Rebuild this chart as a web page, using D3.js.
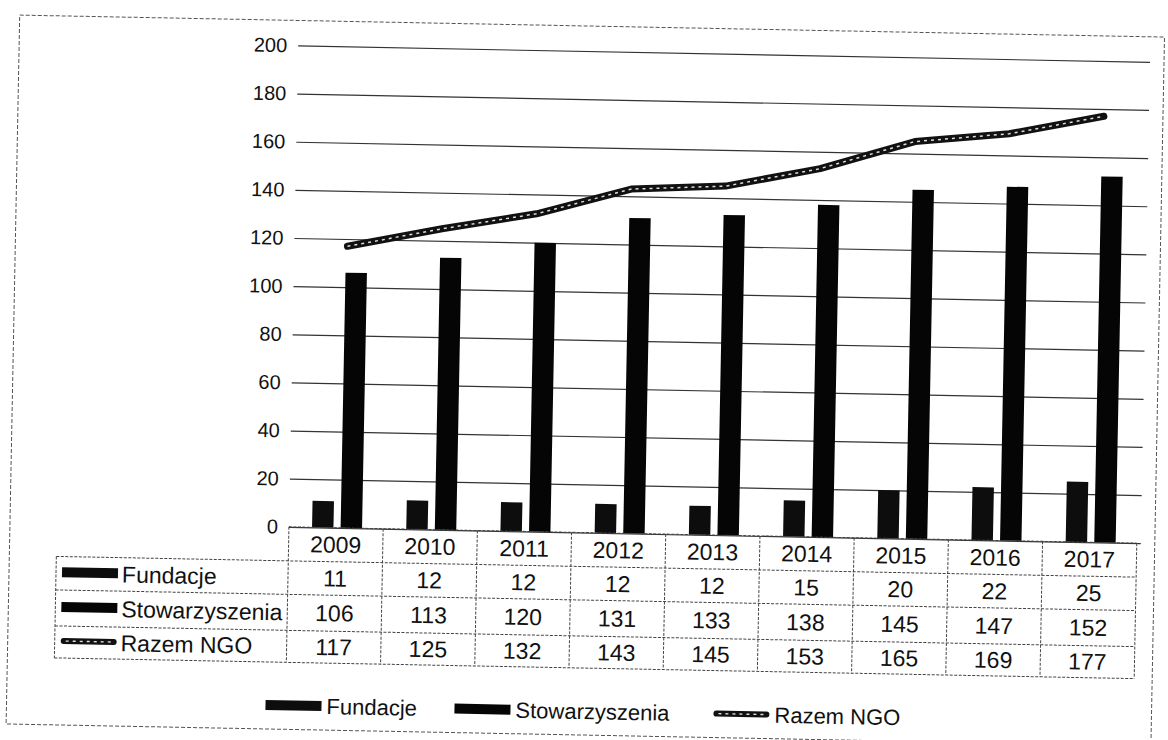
<!DOCTYPE html>
<html>
<head>
<meta charset="utf-8">
<script src="https://cdn.jsdelivr.net/npm/d3@7"></script>
<style>
  body { margin: 0; background: #fff; }
  svg text { font-family: "Liberation Sans", Arial, sans-serif; fill: #111; }
</style>
</head>
<body>
<svg id="chart" width="1168" height="740"></svg>
<script>
// values
const years = ["2009", "2010", "2011", "2012", "2013", "2014", "2015", "2016", "2017"];
const fundacje = [11, 12, 12, 12, 12, 15, 20, 22, 25];
const stowarzyszenia = [106, 113, 120, 131, 133, 138, 145, 147, 152];
const razemNGO = [117, 125, 132, 143, 145, 153, 165, 169, 177];
const yTicks = [0, 20, 40, 60, 80, 100, 120, 140, 160, 180, 200];
const seriesNames = ["Fundacje", "Stowarzyszenia", "Razem NGO"];

const svg = d3.select('#chart');
// the scan is tilted about a degree, so everything sits in a rotated group
const root = svg.append('g').attr('transform', 'rotate(1.1, 584, 370)');

const plotLeft = 292, plotRight = 1140, plotTop = 51, plotBottom = 532.5;
const tableLeft = 60;
const rowEdges = [532.5, 566.5, 600, 636, 668];

const xScale = d3.scaleBand().domain(years).range([plotLeft, plotRight]);
const yScale = d3.scaleLinear().domain([0, 200]).range([plotBottom, plotTop]);
const inner = d3.scaleBand().domain(["f", "s"]).range([0, 50]).paddingInner(0.25);
const groupOffset = (xScale.bandwidth() - 50) / 2 + 1;

// outer frame (dotted scan border)
root.append('rect')
    .attr('x', 13).attr('y', 26).attr('width', 1145).attr('height', 709)
    .attr('fill', 'none').attr('stroke', '#555').attr('stroke-width', 1)
    .attr('stroke-dasharray', '4,2');

// gridlines + y labels
const yAxis = d3.axisLeft(yScale).tickValues(yTicks).tickSize(-(plotRight - plotLeft + 4)).tickPadding(11);
const gy = root.append('g').attr('transform', `translate(${plotLeft},0)`).call(yAxis);
gy.select('.domain').remove();
gy.selectAll('.tick line').attr('stroke', '#333').attr('stroke-width', 1.2);
gy.selectAll('.tick text').attr('font-size', 20).attr('fill', '#111')
    .style('font-family', '"Liberation Sans", Arial, sans-serif');

// bars
root.append('g').selectAll('rect')
    .data(years)
    .join('rect')
    .attr('x', (d) => xScale(d) + groupOffset + inner('f'))
    .attr('y', (d, i) => yScale(fundacje[i]))
    .attr('width', inner.bandwidth())
    .attr('height', (d, i) => yScale(0) - yScale(fundacje[i]))
    .attr('fill', '#0d0d0d');

root.append('g').selectAll('rect')
    .data(years)
    .join('rect')
    .attr('x', (d) => xScale(d) + groupOffset + inner('s'))
    .attr('y', (d, i) => yScale(stowarzyszenia[i]))
    .attr('width', inner.bandwidth())
    .attr('height', (d, i) => yScale(0) - yScale(stowarzyszenia[i]))
    .attr('fill', '#050505');

// Razem NGO line: dark outline with white speckled centre
const line = d3.line()
    .x((d, i) => xScale(years[i]) + xScale.bandwidth() / 2 + 6)
    .y((d) => yScale(d));
root.append('path').datum(razemNGO).attr('d', line)
    .attr('fill', 'none').attr('stroke', '#111').attr('stroke-width', 7)
    .attr('stroke-linecap', 'round').attr('stroke-linejoin', 'round');
root.append('path').datum(razemNGO).attr('d', line)
    .attr('fill', 'none').attr('stroke', '#ddd').attr('stroke-width', 1.5)
    .attr('stroke-dasharray', '3,4');

// data table
const table = root.append('g').attr('stroke', '#444').attr('stroke-width', 1)
    .attr('stroke-dasharray', '3,1.5').attr('fill', 'none');
table.append('line').attr('x1', plotLeft).attr('x2', plotRight).attr('y1', rowEdges[0]).attr('y2', rowEdges[0]);
rowEdges.slice(1).forEach(function(y) {
    table.append('line').attr('x1', tableLeft).attr('x2', plotRight).attr('y1', y).attr('y2', y);
});
table.append('line').attr('x1', tableLeft).attr('x2', tableLeft).attr('y1', rowEdges[1]).attr('y2', rowEdges[4]);
years.forEach(function(y) {
    table.append('line').attr('x1', xScale(y)).attr('x2', xScale(y)).attr('y1', rowEdges[0]).attr('y2', rowEdges[4]);
});
table.append('line').attr('x1', plotRight).attr('x2', plotRight).attr('y1', rowEdges[0]).attr('y2', rowEdges[4]);

// header years
root.append('g').selectAll('text')
    .data(years)
    .join('text')
    .attr('x', (d) => xScale(d) + xScale.bandwidth() / 2)
    .attr('y', (rowEdges[0] + rowEdges[1]) / 2 + 8)
    .attr('text-anchor', 'middle')
    .attr('font-size', 23)
    .text((d) => d);

const rows = [fundacje, stowarzyszenia, razemNGO];
rows.forEach(function(vals, r) {
    const yMid = (rowEdges[r + 1] + rowEdges[r + 2]) / 2;
    root.append('g').selectAll('text')
        .data(vals)
        .join('text')
        .attr('x', (d, i) => xScale(years[i]) + xScale.bandwidth() / 2)
        .attr('y', yMid + 8)
        .attr('text-anchor', 'middle')
        .attr('font-size', 23)
        .text((d) => d);
});

function drawKey(g, name, x, y) {
    if (name === "Razem NGO") {
        g.append('line').attr('x1', x + 3).attr('x2', x + 53).attr('y1', y).attr('y2', y)
            .attr('stroke', '#111').attr('stroke-width', 6).attr('stroke-linecap', 'round');
        g.append('line').attr('x1', x + 5).attr('x2', x + 51).attr('y1', y).attr('y2', y)
            .attr('stroke', '#ddd').attr('stroke-width', 1.4).attr('stroke-dasharray', '3,4');
    } else {
        g.append('rect').attr('x', x).attr('y', y - 5).attr('width', 56).attr('height', 10)
            .attr('fill', name === "Fundacje" ? '#0d0d0d' : '#050505');
    }
}

// row labels with keys
seriesNames.forEach(function(name, r) {
    const yMid = (rowEdges[r + 1] + rowEdges[r + 2]) / 2;
    drawKey(root, name, tableLeft + 6, yMid - 1);
    root.append('text').attr('x', tableLeft + 66).attr('y', yMid + 8)
        .attr('font-size', 23).text(name);
});

// legend
const legendX = [272, 461, 720];
seriesNames.forEach(function(name, i) {
    drawKey(root, name, legendX[i], 711);
    root.append('text').attr('x', legendX[i] + 61).attr('y', 719)
        .attr('font-size', 22).text(name);
});
</script>
</body>
</html>
